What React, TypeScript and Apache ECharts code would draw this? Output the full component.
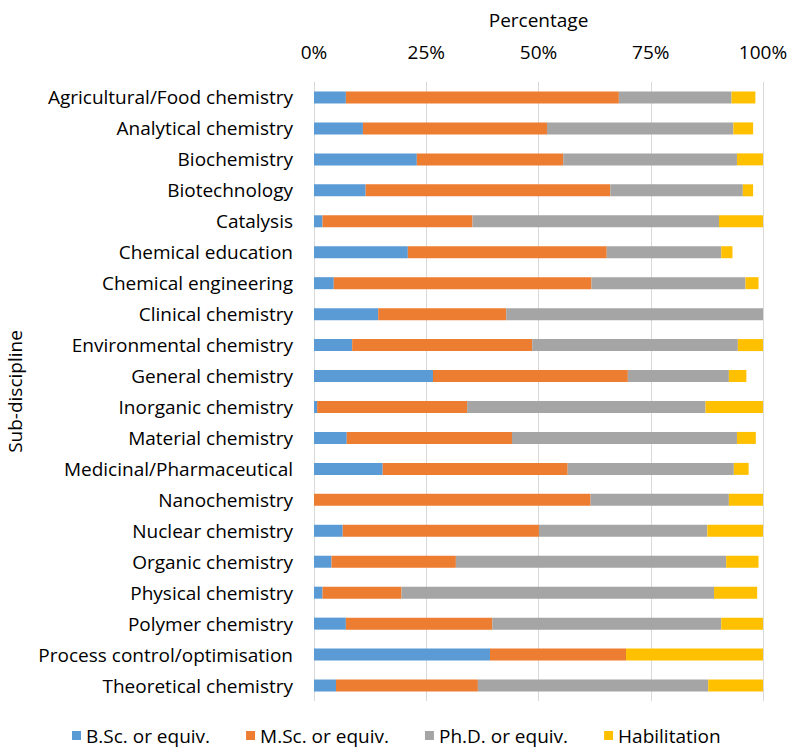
import React, { useEffect, useRef } from "react";
import * as echarts from "echarts";

const categories = [
  "Agricultural/Food chemistry",
  "Analytical chemistry",
  "Biochemistry",
  "Biotechnology",
  "Catalysis",
  "Chemical education",
  "Chemical engineering",
  "Clinical chemistry",
  "Environmental chemistry",
  "General chemistry",
  "Inorganic chemistry",
  "Material chemistry",
  "Medicinal/Pharmaceutical",
  "Nanochemistry",
  "Nuclear chemistry",
  "Organic chemistry",
  "Physical chemistry",
  "Polymer chemistry",
  "Process control/optimisation",
  "Theoretical chemistry",
];

const bsc = [7.1, 10.9, 22.9, 11.5, 1.9, 20.9, 4.4, 14.3, 8.5, 26.5, 0.7, 7.3, 15.3, 0, 6.4, 3.9, 1.9, 7.1, 39.2, 4.9];
const msc = [60.8, 41.0, 32.6, 54.5, 33.4, 44.3, 57.4, 28.5, 40.1, 43.4, 33.4, 36.8, 41.2, 61.6, 43.7, 27.7, 17.6, 32.6, 30.3, 31.6];
const phd = [25.1, 41.5, 38.7, 29.5, 54.9, 25.5, 34.3, 57.2, 45.8, 22.5, 53.1, 50.1, 37.0, 30.8, 37.5, 60.2, 69.6, 51.0, 0, 51.3];
const hab = [5.3, 4.4, 5.8, 2.3, 9.8, 2.5, 2.9, 0, 5.6, 3.9, 12.8, 4.2, 3.3, 7.6, 12.4, 7.2, 9.6, 9.3, 30.5, 12.2];

const seriesNames = ["B.Sc. or equiv.", "M.Sc. or equiv.", "Ph.D. or equiv.", "Habilitation"];
const colors = ["#5B9BD5", "#ED7D31", "#A5A5A5", "#FFC000"];
const xTicks = [0, 25, 50, 75, 100];

const FONT = "Open Sans";
const FS = 19;

export default function App() {
  const ref = useRef<HTMLDivElement>(null);
  useEffect(() => {
    if (!ref.current) return;
    const chart = echarts.init(ref.current, null, { renderer: "svg" });
    const dataSets = [bsc, msc, phd, hab];
    chart.setOption({
      animation: false,
      textStyle: { fontFamily: FONT, color: "#000" },
      grid: {
        left: 314,
        right: 27,
        top: 82,
        bottom: 46,
        containLabel: false,
        outerBoundsMode: "none",
      },
      xAxis: {
        type: "value",
        position: "top",
        min: xTicks[0],
        max: xTicks[xTicks.length - 1],
        interval: 25,
        name: "Percentage",
        nameLocation: "middle",
        nameGap: 53,
        nameTextStyle: { fontFamily: FONT, fontSize: FS, color: "#000" },
        axisLabel: { formatter: "{value}%", fontFamily: FONT, fontSize: FS, color: "#000", margin: 21 },
        axisLine: { show: false },
        axisTick: { show: false },
        splitLine: { show: true, lineStyle: { color: "#d9d9d9", width: 1 } },
      },
      yAxis: {
        type: "category",
        data: categories,
        inverse: true,
        name: "Sub-discipline",
        nameLocation: "middle",
        nameGap: 290,
        nameRotate: 90,
        nameTextStyle: { fontFamily: FONT, fontSize: FS, color: "#000" },
        axisLabel: { fontFamily: FONT, fontSize: FS, color: "#000", margin: 21 },
        axisLine: { show: false },
        axisTick: { show: false },
        splitLine: { show: false },
      },
      legend: {
        bottom: -3,
        left: 67,
        itemWidth: 9,
        itemHeight: 9,
        itemGap: 36,
        icon: "rect",
        textStyle: { fontFamily: FONT, fontSize: FS, color: "#000" },
        data: seriesNames,
      },
      series: seriesNames.map((name, i) => ({
        name,
        type: "bar",
        stack: "total",
        barWidth: 12,
        data: dataSets[i],
        itemStyle: { color: colors[i] },
      })),
    });
    return () => chart.dispose();
  }, []);
  return (
    <div
      ref={ref}
      style={{ position: "absolute", left: 0, top: 0, width: 790, height: 747 }}
    />
  );
}
